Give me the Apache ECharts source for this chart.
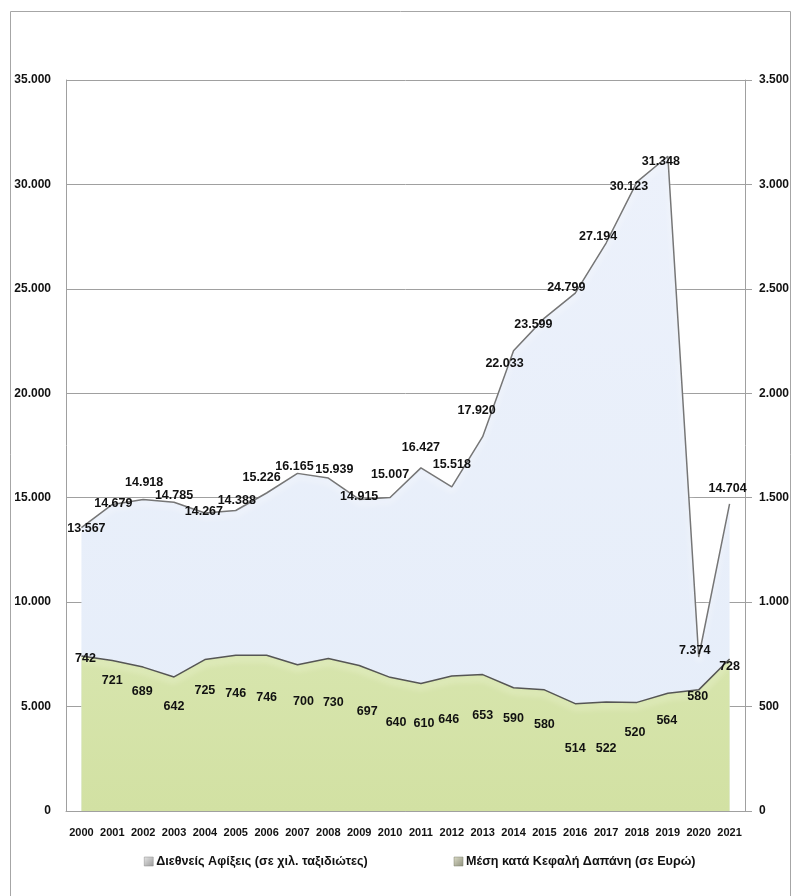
<!DOCTYPE html>
<html>
<head>
<meta charset="utf-8">
<script src="https://cdn.jsdelivr.net/npm/echarts@6/dist/echarts.min.js"></script>
<style>
  html, body { margin: 0; padding: 0; background: #fff; }
  #chart { width: 794px; height: 896px; }
</style>
</head>
<body>
<div id="chart"></div>
<script>
// Years on the category axis
const years = ['2000','2001','2002','2003','2004','2005','2006','2007','2008','2009','2010',
  '2011','2012','2013','2014','2015','2016','2017','2018','2019','2020','2021'];

// International arrivals, thousands of travellers (left axis)
const arrivals = [13567, 14679, 14918, 14785, 14267, 14388, 15226, 16165, 15939, 14915, 15007,
  16427, 15518, 17920, 22033, 23599, 24799, 27194, 30123, 31348, 7374, 14704];

// Average spending per head, euros (right axis)
const spending = [742, 721, 689, 642, 725, 746, 746, 700, 730, 697, 640,
  610, 646, 653, 590, 580, 514, 522, 520, 564, 580, 728];

// Value label nudges [dx, dy] in pixels, so labels don't collide with lines
const arrivalsLabelNudge = [[5,1],[1,-1],[1,-17],[0,-7],[-1,-1],[1,-10],[-5,-15],[-3,-7],[6,-9],[0,-3],[0,-23],
  [0,-20],[0,-22],[-6,-26],[-9,13],[-11,6],[-9,-6],[-8,-6],[-8,5],[-7,5],[-4,-6],[-2,-15]];
const spendingLabelNudge = [[4,3],[0,20],[-1,24],[0,30],[0,31],[0,38],[0,42],[6,37],[5,44],[8,46],[6,45],
  [3,40],[-3,43],[0,41],[0,31],[0,35],[0,45],[0,47],[-2,30],[-1,27],[-1,7],[0,8]];

const legendNames = ['Διεθνείς Αφίξεις (σε χιλ. ταξιδιώτες)', 'Μέση κατά Κεφαλή Δαπάνη (σε Ευρώ)'];

const fontFamily = '"Liberation Sans", "DejaVu Sans", sans-serif';
const dotThousands = v => String(v).replace(/\B(?=(\d{3})+(?!\d))/g, '.');

function labelled(values, nudges) {
  return values.map((v, i) => ({
    value: v,
    label: { offset: nudges[i] }
  }));
}

const chart = echarts.init(document.getElementById('chart'), null, { renderer: 'canvas' });

const greyIcon = new echarts.graphic.LinearGradient(0, 0, 1, 1, [
  { offset: 0, color: '#e6e6e6' }, { offset: 1, color: '#9a9a9a' }
]);
const oliveIcon = new echarts.graphic.LinearGradient(0, 0, 1, 1, [
  { offset: 0, color: '#dcdcc8' }, { offset: 1, color: '#8e907c' }
]);

chart.setOption({
  animation: false,
  backgroundColor: '#ffffff',
  textStyle: { fontFamily },
  graphic: [{
    type: 'rect',
    shape: { x: 10.5, y: 11.5, width: 780, height: 900 },
    style: { fill: 'none', stroke: '#a6a6a6', lineWidth: 1 },
    silent: true,
    z: -10
  }],
  grid: { left: 66, right: 49, top: 80, bottom: 85, containLabel: false },
  legend: {
    top: 850,
    left: 139,
    itemGap: 86,
    itemWidth: 9,
    itemHeight: 9,
    icon: 'rect',
    textStyle: { fontFamily, fontWeight: 'bold', fontSize: 12.6, color: '#111', padding: [0, 0, 0, -2] },
    data: [
      { name: legendNames[0], itemStyle: { color: greyIcon, borderColor: '#8a8a8a', borderWidth: 0.5 } },
      { name: legendNames[1], itemStyle: { color: oliveIcon, borderColor: '#7f826f', borderWidth: 0.5 } }
    ]
  },
  xAxis: {
    type: 'category',
    data: years,
    boundaryGap: true,
    axisLine: { lineStyle: { color: '#a0a0a0', width: 1 } },
    axisTick: { show: false },
    axisLabel: { interval: 0, margin: 16, fontSize: 11, fontWeight: 'bold', color: '#111', fontFamily }
  },
  yAxis: [{
    type: 'value',
    min: 0, max: 35000, interval: 5000,
    axisLine: { show: true, lineStyle: { color: '#a0a0a0' } },
    axisTick: { show: false },
    splitLine: { lineStyle: { color: '#a0a0a0', width: 1 } },
    axisLabel: { margin: 15, fontSize: 12, fontWeight: 'bold', color: '#111', fontFamily, formatter: dotThousands }
  }, {
    type: 'value',
    min: 0, max: 3500, interval: 500,
    position: 'right',
    axisLine: { show: true, lineStyle: { color: '#a0a0a0' } },
    axisTick: { show: true, length: 7, inside: false, lineStyle: { color: '#a0a0a0' } },
    splitLine: { show: false },
    axisLabel: { margin: 14, fontSize: 12, fontWeight: 'bold', color: '#111', fontFamily, formatter: dotThousands }
  }],
  series: [{
    name: legendNames[0],
    type: 'line',
    yAxisIndex: 0,
    data: labelled(arrivals, arrivalsLabelNudge),
    symbol: 'circle',
    symbolSize: 1,
    itemStyle: { color: 'rgba(0,0,0,0)' },
    lineStyle: { color: '#767676', width: 1.5, shadowColor: 'rgba(255,255,255,1)', shadowBlur: 6, shadowOffsetY: 4 },
    areaStyle: {
      color: new echarts.graphic.LinearGradient(0, 0, 0, 1, [
        { offset: 0, color: '#ecf1fb' },
        { offset: 1, color: '#e5edf9' }
      ]),
      opacity: 1
    },
    label: {
      show: true, position: 'inside', fontSize: 12.5, fontWeight: 'bold', color: '#111', fontFamily,
      formatter: p => dotThousands(p.value)
    },
    z: 2
  }, {
    name: legendNames[1],
    type: 'line',
    yAxisIndex: 1,
    data: labelled(spending, spendingLabelNudge),
    symbol: 'circle',
    symbolSize: 1,
    itemStyle: { color: 'rgba(0,0,0,0)' },
    lineStyle: { color: '#555555', width: 1.5, shadowColor: 'rgba(248,252,232,1)', shadowBlur: 6, shadowOffsetY: 4 },
    areaStyle: {
      color: new echarts.graphic.LinearGradient(0, 0, 0, 1, [
        { offset: 0, color: '#d7e5ad' },
        { offset: 1, color: '#d2e1a3' }
      ]),
      opacity: 1
    },
    label: {
      show: true, position: 'inside', fontSize: 12.5, fontWeight: 'bold', color: '#111', fontFamily,
      formatter: p => dotThousands(p.value)
    },
    z: 3
  }]
});
</script>
</body>
</html>
